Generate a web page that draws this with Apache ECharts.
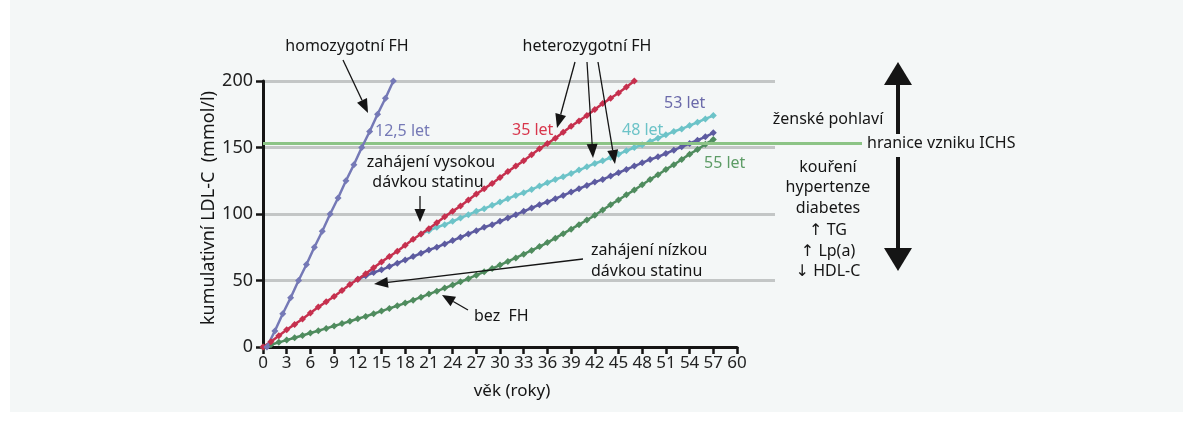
<!DOCTYPE html>
<html>
<head>
<meta charset="utf-8">
<script src="https://cdn.jsdelivr.net/npm/echarts/dist/echarts.min.js"></script>
<style>
  html, body { margin: 0; padding: 0; background: #ffffff; }
  #panel { position: absolute; left: 10px; top: 0; width: 1173px; height: 412px; background: #f4f7f7; }
  #chart { position: absolute; left: 0; top: 0; width: 1193px; height: 422px; }
</style>
</head>
<body>
<div id="panel"></div>
<div id="chart"></div>
<script>
// osa x: věk (roky), osa y: kumulativní LDL-C
const xTicks = [0, 3, 6, 9, 12, 15, 18, 21, 24, 27, 30, 33, 36, 39, 42, 45, 48, 51, 54, 57, 60];
const yTicks = [0, 50, 100, 150, 200];
const ichsLimit = 153;

// homozygotní FH - body po roce, začátek v 0,5 roku
const homStart = 0.5;
const homValues = [0, 12, 25, 37, 50, 62, 75, 87, 100, 112, 125, 137, 150, 162, 175, 187, 200];

// heterozygotní FH bez léčby
const redStart = 0;
const redValues = [0, 4, 8.5, 13, 17, 21, 25.5, 30, 34, 38, 42.5, 47, 51, 55, 59.5, 64, 68, 72, 76.5, 81,
  85, 89, 93.5, 98, 102, 106, 110.5, 115, 119, 123, 127.5, 132, 136, 140, 144.5, 149, 153, 157, 161.5, 166,
  170, 174, 178.5, 183, 187, 191, 195.5, 200];

// heterozygotní FH - vysoká dávka statinu od 20 let
const cyanStart = 20;
const cyanValues = [85, 87.5, 90, 92, 94.5, 97, 99.5, 102, 104, 106.5, 109, 111.5, 114, 116, 118.5, 121,
  123.5, 126, 128, 130.5, 133, 135.5, 138, 140, 142.5, 145, 147.5, 150, 152, 154.5, 157, 159.5, 162, 164,
  166.5, 169, 171.5, 174];

// heterozygotní FH - nízká dávka statinu od 12 let
const lowStart = 12;
const lowValues = [51, 53.5, 56, 58, 60.5, 63, 65.5, 68, 70.5, 73, 75, 77.5, 80, 82.5, 85, 87.5, 90, 92,
  94.5, 97, 99.5, 102, 104.5, 107, 109, 111.5, 114, 116.5, 119, 121.5, 124, 126, 128.5, 131, 133.5, 136,
  138.5, 141, 143, 145.5, 148, 150.5, 153, 155.5, 158, 161];

// bez FH
const greenStart = 0;
const greenValues = [0, 1.7, 3.5, 5.2, 7, 8.7, 10.5, 12.2, 14, 15.8, 17.6, 19.4, 21.2, 23, 25, 27, 29, 31,
  33, 35.2, 37.5, 39.8, 42, 44.3, 46.6, 49, 51.4, 54, 56.5, 59, 61.6, 64.3, 67, 69.8, 72.6, 75.5, 78.5,
  81.8, 85.2, 88.6, 92, 95.5, 99, 103, 107, 110.5, 114.5, 118, 122, 126, 129.5, 133.5, 137, 141, 145,
  148.5, 152.5, 156];

const C = {
  hom: '#7579b6',
  red: '#c6304e',
  cyan: '#6cc3c8',
  low: '#5d5ba0',
  green: '#4f8c5e',
  ichs: '#8cc486',
  grid: '#c3c6c6',
  ink: '#151515'
};

const FONT = '"Noto Sans", "DejaVu Sans", sans-serif';

function pairs(start, values) {
  return values.map((v, i) => [start + i, v]);
}

function lineSeries(name, start, values, color, z) {
  return {
    name: name,
    type: 'line',
    xAxisIndex: 0,
    yAxisIndex: 0,
    data: pairs(start, values),
    symbol: 'diamond',
    symbolSize: 7,
    z: z,
    lineStyle: { color: color, width: 2.5 },
    itemStyle: { color: color },
    emphasis: { disabled: true }
  };
}

// šipky s trojúhelníkovou hlavou
function arrow(x1, y1, x2, y2, len, w, lw) {
  const dx = x2 - x1, dy = y2 - y1;
  const L = Math.sqrt(dx * dx + dy * dy);
  const ux = dx / L, uy = dy / L;
  const bx = x2 - ux * len, by = y2 - uy * len;
  const nx = -uy * w / 2, ny = ux * w / 2;
  return [
    { type: 'line', shape: { x1: x1, y1: y1, x2: bx, y2: by }, style: { stroke: C.ink, lineWidth: lw || 1.3 }, z: 20 },
    { type: 'polygon', shape: { points: [[x2, y2], [bx + nx, by + ny], [bx - nx, by - ny]] }, style: { fill: C.ink }, z: 20 }
  ];
}

function label(text, x, y, opts) {
  opts = opts || {};
  return {
    type: 'text',
    z: 20,
    style: {
      text: text,
      x: x,
      y: y,
      fill: opts.color || C.ink,
      font: (opts.size || 16) + 'px ' + FONT,
      textAlign: opts.align || 'left',
      textVerticalAlign: 'middle'
    }
  };
}

const riskFactors = ['kouření', 'hypertenze', 'diabetes', '↑ TG', '↑ Lp(a)', '↓ HDL-C'];
const riskY = [167, 187, 208, 230, 251, 271];

const graphics = [
  label('homozygotní FH', 347, 46, { align: 'center' }),
  label('heterozygotní FH', 587, 46, { align: 'center' }),
  label('12,5 let', 375, 131, { color: C.hom }),
  label('35 let', 512, 130, { color: '#d8364c' }),
  label('48 let', 622, 130, { color: C.cyan }),
  label('53 let', 664, 103, { color: '#6b6aaa' }),
  label('55 let', 704, 163, { color: '#5d9c66' }),
  label('zahájení vysokou', 431, 162, { align: 'center' }),
  label('dávkou statinu', 428, 182, { align: 'center' }),
  label('zahájení nízkou', 591, 250),
  label('dávkou statinu', 591, 271),
  label('bez  FH', 474, 316),
  label('ženské pohlaví', 828, 119, { align: 'center' }),
  label('hranice vzniku ICHS', 867, 143)
];
riskFactors.forEach((t, i) => graphics.push(label(t, 828, riskY[i], { align: 'center' })));

[
  arrow(343, 60, 368, 113, 14, 11),
  arrow(575, 62, 557, 128, 14, 11),
  arrow(587, 62, 593, 158, 14, 11),
  arrow(598, 62, 615, 164, 14, 11),
  arrow(420, 196, 420, 222, 13, 11),
  arrow(583, 259, 374, 284, 14, 11),
  arrow(468, 310, 442, 295, 13, 11),
  arrow(898, 134, 898, 62, 23, 28, 4),
  arrow(898, 157, 898, 271, 23, 28, 4)
].forEach(a => graphics.push(...a));

const chart = echarts.init(document.getElementById('chart'), null, { renderer: 'canvas' });

const option = {
  animation: false,
  backgroundColor: 'transparent',
  textStyle: { fontFamily: FONT },
  grid: [
    { left: 263, top: 81, width: 474, height: 266 },
    { left: 263, top: 81, width: 512, height: 266 },
    { left: 263, top: 81, width: 599, height: 266 }
  ],
  xAxis: [
    {
      gridIndex: 0, type: 'value', min: xTicks[0], max: xTicks[xTicks.length - 1], interval: 3,
      name: 'věk (roky)', nameLocation: 'middle', nameGap: 36,
      nameTextStyle: { fontSize: 17, color: C.ink, padding: [0, 0, 0, 24] },
      axisLine: { lineStyle: { color: C.ink, width: 3 } },
      axisTick: { length: 7, lineStyle: { color: C.ink, width: 2.5 } },
      axisLabel: { fontSize: 17, color: '#222', margin: 8, interval: 0 },
      splitLine: { show: false }
    },
    { gridIndex: 1, type: 'value', min: 0, max: 1, show: false },
    { gridIndex: 2, type: 'value', min: 0, max: 1, show: false }
  ],
  yAxis: [
    {
      gridIndex: 0, type: 'value', min: yTicks[0], max: yTicks[yTicks.length - 1], interval: 50,
      name: 'kumulativní LDL-C  (mmol/l)', nameLocation: 'middle', nameGap: 42, nameRotate: 90,
      nameTextStyle: { fontSize: 18, color: C.ink, padding: [0, 0, 0, 12] },
      axisLine: { show: true, lineStyle: { color: C.ink, width: 3 } },
      axisTick: { show: true, length: 7, lineStyle: { color: C.ink, width: 2.5 } },
      axisLabel: { fontSize: 18, color: '#222', margin: 10 },
      splitLine: { show: false }
    },
    {
      gridIndex: 1, type: 'value', min: 0, max: 200, interval: 50,
      axisLine: { show: false }, axisTick: { show: false }, axisLabel: { show: false },
      splitLine: { show: true, lineStyle: { color: ['transparent', C.grid, C.grid, C.grid, C.grid], width: 3 } }
    },
    { gridIndex: 2, type: 'value', min: 0, max: 200, show: false }
  ],
  series: [
    {
      type: 'line', xAxisIndex: 2, yAxisIndex: 2, data: [], silent: true, z: 1,
      markLine: {
        silent: true, symbol: 'none', animation: false,
        label: { show: false },
        lineStyle: { color: C.ichs, width: 3, type: 'solid' },
        data: [{ yAxis: ichsLimit }]
      }
    },
    lineSeries('bez FH', greenStart, greenValues, C.green, 3),
    lineSeries('nízká dávka', lowStart, lowValues, C.low, 4),
    lineSeries('vysoká dávka', cyanStart, cyanValues, C.cyan, 4),
    lineSeries('heterozygotní FH', redStart, redValues, C.red, 5),
    lineSeries('homozygotní FH', homStart, homValues, C.hom, 5)
  ],
  graphic: graphics
};

chart.setOption(option);
</script>
</body>
</html>
